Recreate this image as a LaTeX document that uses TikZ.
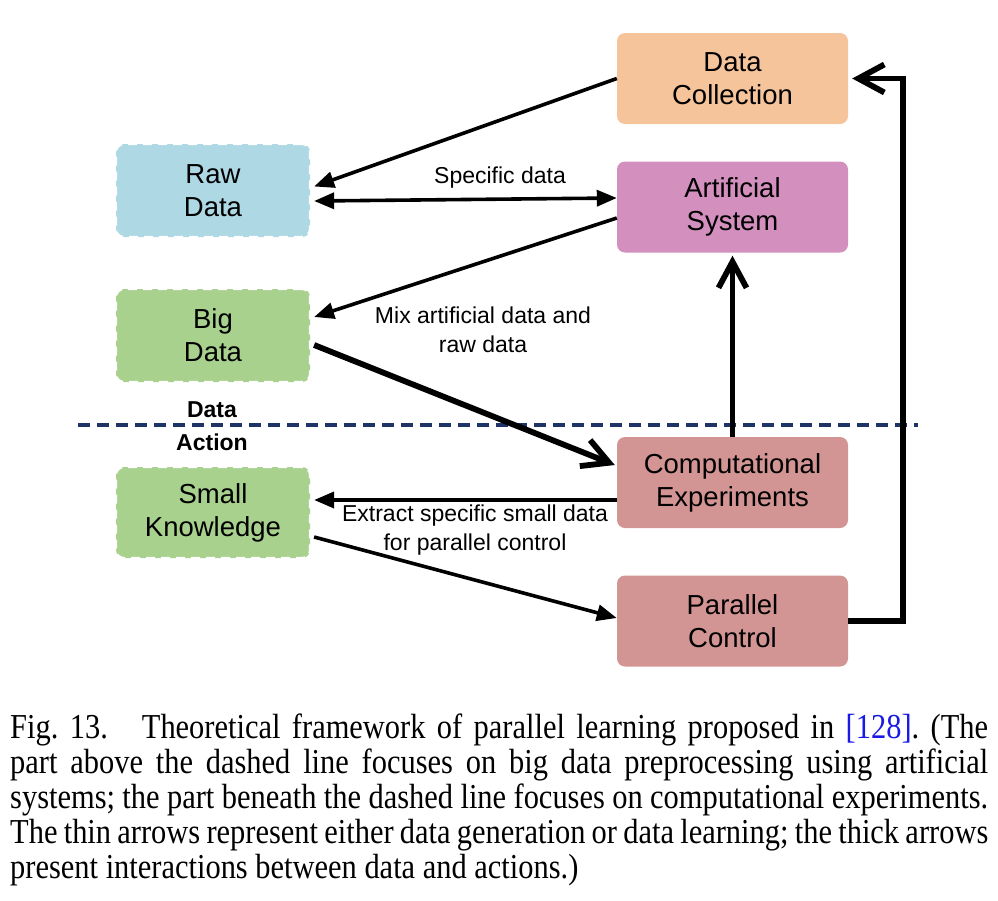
\documentclass[tikz,border=0pt]{standalone}
\usepackage{fontspec}
\setmainfont[FakeStretch=0.87]{Liberation Serif}
\newfontfamily\arialf{Liberation Sans}
\usetikzlibrary{arrows.meta}
\definecolor{rawc}{HTML}{ADD8E4}
\definecolor{bigc}{HTML}{A9D18E}
\definecolor{collc}{HTML}{F6C49B}
\definecolor{artc}{HTML}{D38FBE}
\definecolor{compc}{HTML}{D39593}
\definecolor{navyc}{HTML}{1F3466}
\definecolor{refblue}{HTML}{1A1AE6}
\tikzset{
  box/.style={rounded corners=8pt, minimum width=231pt, minimum height=91pt, inner sep=0pt,
    align=center, font=\arialf\fontsize{27.5}{33}\selectfont},
  solidbox/.style={box, fill=#1},
  dbox/.style={box, minimum width=194pt, minimum height=93pt, fill=#1, draw=white,
    line width=2.2pt, dash pattern=on 9pt off 6pt},
  thin/.style={line width=3.6pt, -{Triangle[length=20pt,width=16pt]}},
  thinboth/.style={line width=3.6pt, {Triangle[length=20pt,width=16pt]}-{Triangle[length=20pt,width=16pt]}},
  thick/.style={line width=5.8pt, -{Straight Barb[length=26pt,width=28pt,line width=5.8pt]}},
  lbl/.style={font=\arialf\fontsize{23}{29}\selectfont, align=center, inner sep=0pt},
  sect/.style={font=\arialf\bfseries\fontsize{23}{28}\selectfont, inner sep=0pt},
}
\begin{document}
\begin{tikzpicture}[x=1pt,y=-1pt]
\useasboundingbox (0,0) rectangle (998,900);
% nodes
\node[solidbox=collc] (dc) at (732.5,78.5) {Data\\Collection};
\node[solidbox=artc] (as) at (732.5,207) {Artificial\\System};
\node[solidbox=compc] (ce) at (732.5,482.5) {Computational\\Experiments};
\node[solidbox=compc] (pc) at (732.5,621) {Parallel\\Control};
\node[dbox=rawc] (rd) at (213,190.5) {Raw\\Data};
\node[dbox=bigc] (bd) at (213,335.5) {Big\\Data};
\node[dbox=bigc, minimum height=91pt] (sk) at (213,512.5) {Small\\Knowledge};
% dashed separator
\coordinate (sepL) at (78,425);
\coordinate (sepR) at (918,425);
\draw[navyc, line width=3.5pt, dash pattern=on 12pt off 7pt] (sepL) -- (sepR);
\node[sect] (tdata) at (212,410) {Data};
\node[sect] (taction) at (212,442) {Action};
% thin arrows
\draw[thin] (dc.west) -- ([xshift=3pt,yshift=4pt]rd.east);
\draw[thinboth] ([xshift=3pt,yshift=-10.5pt]rd.east) -- ([yshift=9pt]as.west);
\draw[thin] ([yshift=-11pt]as.west) -- ([xshift=3pt,yshift=18.5pt]bd.east);
\draw[thin] ([yshift=-17.5pt]ce.west) -- ([xshift=3pt,yshift=12.5pt]sk.east);
\draw[thin] ([xshift=3pt,yshift=-24.5pt]sk.east) -- ([yshift=3pt]pc.west);
% thick arrows
\draw[thick] ([xshift=3pt,yshift=-9.5pt]bd.east) -- ([xshift=-2pt,yshift=17.5pt]ce.west);
\draw[thick] (ce.north) -- ([yshift=-3pt]as.south);
\coordinate (corner) at (903,621);
\draw[thick, line join=miter] (pc.east) -- (corner) |- ([xshift=4pt]dc.east);
% labels
\node[lbl] (l1) at (500,178) {Specific data};
\node[lbl] (l2) at (483,330) {Mix artificial data and\\raw data};
\node[lbl] (l3) at (475,530) {Extract specific small data\\for parallel control};
% caption
\node[anchor=base west, inner sep=0pt] (cap) at (10,738) {\parbox[t]{978pt}{\fontsize{35}{35}\selectfont
\frenchspacing\hyphenpenalty=10000\parindent=0pt\emergencystretch=20pt
Fig.~13.\hspace{34pt}Theoretical framework of parallel learning proposed in {\color{refblue}[128]}. (The\linebreak
part above the dashed line focuses on big data preprocessing using artificial\linebreak
systems; the part beneath the dashed line focuses on computational experiments.\linebreak
The thin arrows represent either data generation or data learning; the thick arrows\linebreak
present interactions between data and actions.)}};
\end{tikzpicture}
\end{document}
